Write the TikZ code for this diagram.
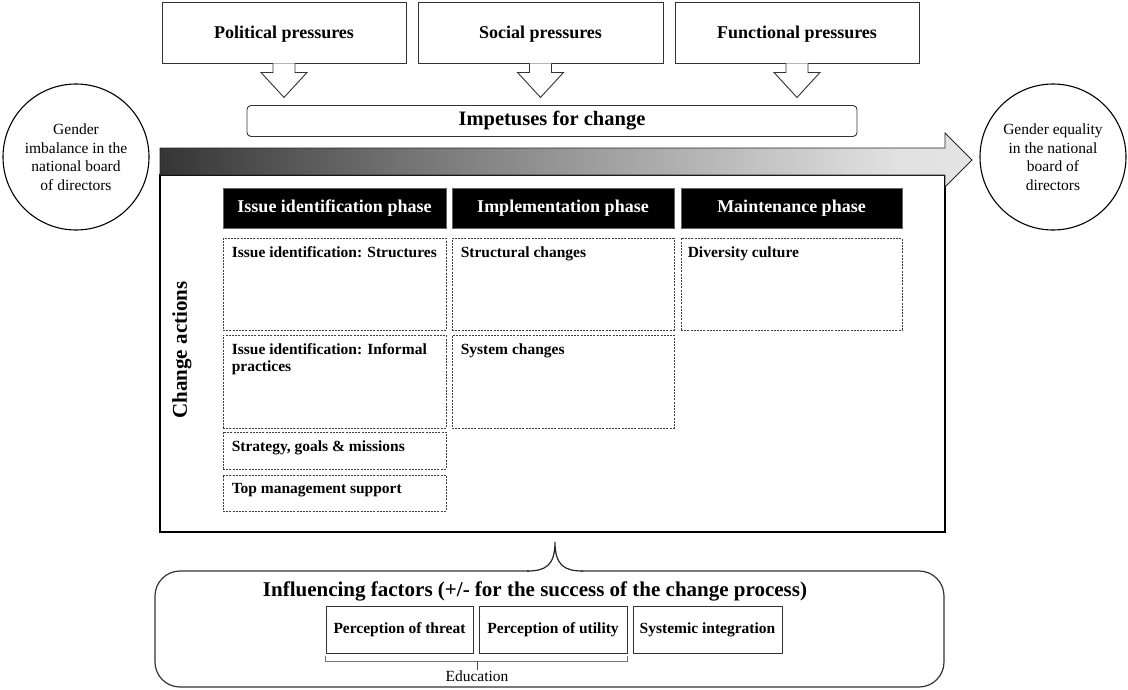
\documentclass[tikz,border=0pt]{standalone}
\usepackage{fontspec}
\setmainfont{Liberation Serif}
\pgfdeclarehorizontalshading{bigarrow}{100bp}{color(0bp)=(black); color(12bp)=(black); color(40bp)=(black!55); color(70bp)=(black!12); color(100bp)=(black!4)}
\begin{document}
\begin{tikzpicture}[x=1pt,y=-1pt,
  pbox/.style={draw=black!80, line width=0.9pt, fill=white, inner sep=0pt, text height=15pt, text depth=4pt, font=\fontsize{18}{20}\selectfont\bfseries},
  blockarrow/.style={draw=black!80, line width=0.9pt, fill=white, line join=miter},
  circ/.style={draw=black, line width=1.1pt, circle, minimum size=146pt, inner sep=0pt, align=center, font=\fontsize{15.5}{18.5}\selectfont},
  phase/.style={fill=black, draw=black!60, text=white, inner sep=0pt, minimum height=40pt, font=\fontsize{18}{20}\selectfont\bfseries},
  dbox/.style={draw=black!75, line width=0.8pt, dash pattern=on 2pt off 1.2pt, inner sep=0pt},
  dtext/.style={anchor=north west, inner sep=0pt, align=left, font=\fontsize{15.5}{17.5}\selectfont\bfseries},
  fbox/.style={draw=black!80, line width=1pt, inner sep=0pt, minimum height=47pt, font=\fontsize{15.5}{17}\selectfont\bfseries},
]
\useasboundingbox (0,0) rectangle (1128,689);

% pressures
\node[pbox, minimum width=244pt, minimum height=61pt] (pol) at (284,32.5) {Political pressures};
\node[pbox, minimum width=245pt, minimum height=61pt] (soc) at (540.5,32.5) {Social pressures};
\node[pbox, minimum width=244pt, minimum height=61pt] (fun) at (797,32.5) {Functional pressures};
\node[draw=black!80, line width=0.9pt, rounded corners=4pt, minimum width=610pt, minimum height=31pt, inner sep=0pt, font=\fontsize{20.5}{22}\selectfont\bfseries] (imp) at (552,121) {Impetuses for change};

\foreach \n in {pol,soc,fun}{
  \draw[blockarrow] ([xshift=-11pt]\n.south) -- ++(0,9) -- ++(-12,0) -- ([yshift=-34pt]\n.south) -- ([shift={(23pt,-9pt)}]\n.south) -- ++(-12,0) -- ([xshift=11pt]\n.south);
}

% circles
\node[circ] (start) at (76,157) {Gender\\imbalance in the\\national board\\of directors};
\node[circ] (goal) at (1053,157) {Gender equality\\in the national\\board of\\directors};

% main box
\node[draw=black, line width=1.8pt, minimum width=785pt, minimum height=357pt, inner sep=0pt] (main) at (552.5,353.5) {};

% gradient arrow
\shade[shading=bigarrow, draw=black!85, line width=0.9pt, line join=miter] (160,148) -- (945,148) -- (945,133) -- (972,160) -- (945,187) -- (945,175) -- (160,175) -- cycle;
\coordinate (tip) at (972,160);

% phases
\node[phase, minimum width=223pt] (ph1) at (334.5,208) {Issue identification phase};
\node[phase, minimum width=222pt] (ph2) at (563,208) {Implementation phase};
\node[phase, minimum width=221pt] (ph3) at (791.5,208) {Maintenance phase};

% dashed boxes
\node[dbox, minimum width=223pt, minimum height=92pt] (s1) at (334.5,284) {};
\node[dtext] (s1t) at ([shift={(9pt,-8.5pt)}]s1.north west) {Issue identification: Structures};
\node[dbox, minimum width=223pt, minimum height=93pt] (s2) at (334.5,381.5) {};
\node[dtext] (s2t) at ([shift={(9pt,-8.5pt)}]s2.north west) {Issue identification: Informal\\practices};
\node[dbox, minimum width=223pt, minimum height=37pt] (s3) at (334.5,450.5) {};
\node[dtext] (s3t) at ([shift={(9pt,-8.5pt)}]s3.north west) {Strategy, goals \& missions};
\node[dbox, minimum width=223pt, minimum height=36pt] (s4) at (334.5,493) {};
\node[dtext] (s4t) at ([shift={(9pt,-8.5pt)}]s4.north west) {Top management support};

\node[dbox, minimum width=222pt, minimum height=92pt] (m1) at (563,284) {};
\node[dtext] (m1t) at ([shift={(9pt,-8.5pt)}]m1.north west) {Structural changes};
\node[dbox, minimum width=222pt, minimum height=93pt] (m2) at (563,381.5) {};
\node[dtext] (m2t) at ([shift={(9pt,-8.5pt)}]m2.north west) {System changes};

\node[dbox, minimum width=221pt, minimum height=92pt] (d1) at (791.5,284) {};
\node[dtext] (d1t) at ([shift={(7pt,-8.5pt)}]d1.north west) {Diversity culture};

\node[rotate=90, inner sep=0pt, font=\fontsize{21}{23}\selectfont\bfseries] (ca) at (182,350) {Change actions};

% influencing factors
\node[draw=black!80, line width=1.2pt, rounded corners=25pt, minimum width=789pt, minimum height=116pt, inner sep=0pt] (infl) at (549.5,629) {};
\draw[white, line width=3pt] (529,571) -- (581,571);
\coordinate (brl) at (527,571);
\coordinate (brr) at (583,571);
\coordinate (brt) at (555,542);
\draw[black!85, line width=1.2pt] (brl) .. controls (545,571) and (555,566) .. (brt) .. controls (555,566) and (565,571) .. (brr);

\node[inner sep=0pt, font=\fontsize{21}{23}\selectfont\bfseries] (ift) at (535,591) {Influencing factors (+/- for the success of the change process)};
\node[fbox, minimum width=147pt] (pt) at (399.5,629.5) {Perception of threat};
\node[fbox, minimum width=148pt] (pu) at (553,629.5) {Perception of utility};
\node[fbox, minimum width=149pt] (si) at (707.5,629.5) {Systemic integration};

\draw[black!55, line width=0.6pt] ([yshift=-2pt]pt.south west) -- ([yshift=-8pt]pt.south west) -- ([yshift=-8pt]pu.south east) -- ([yshift=-2pt]pu.south east);
\coordinate (edm) at (477,661);
\node[inner sep=0pt, font=\fontsize{15.5}{17}\selectfont] (edu) at (477,676) {Education};
\draw[black!70, line width=0.6pt] (edm) -- (edu.north);
\end{tikzpicture}
\end{document}
